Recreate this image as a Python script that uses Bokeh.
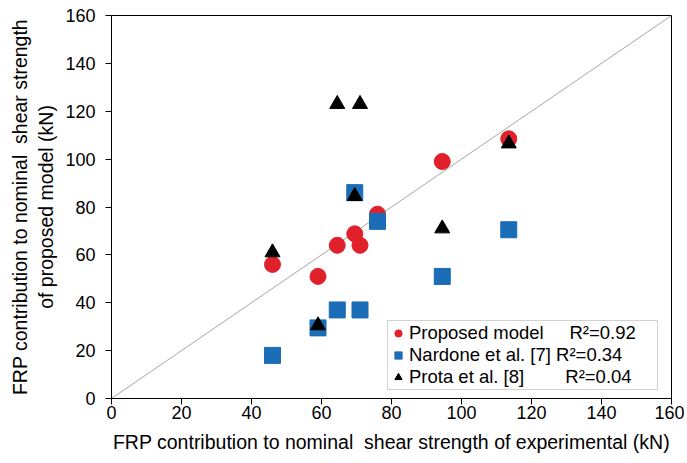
from bokeh.plotting import figure
from bokeh.models import Legend, LegendItem, Range1d, FixedTicker
from bokeh.embed import file_html
from bokeh.resources import INLINE

# Data (kN)
experimental = [46, 59, 64.5, 69.5, 71, 76, 94.5, 113.5]
proposed = [56, 51, 64, 68.8, 64, 77, 99, 108.5]
nardone = [18, 29.5, 37, 86, 37, 74, 51, 70.5]
prota_x = [46, 59, 64.5, 69.5, 71, 94.5, 113.5]
prota = [61, 30.5, 123, 84.5, 123, 71, 106.5]
diag = [0, 160]
ticks = [0, 20, 40, 60, 80, 100, 120, 140, 160]

NB = "\u00a0"
labels = [
    "Proposed model" + NB * 5 + "R\u00b2=0.92",
    "Nardone et al. [7]" + NB + "R\u00b2=0.34",
    "Prota et al. [8]" + NB * 8 + "R\u00b2=0.04",
]

FONT = "Liberation Sans"

p = figure(width=684, height=461, output_backend="svg", toolbar_location=None,
           x_range=Range1d(0, 160), y_range=Range1d(0, 160),
           min_border_left=111, min_border_right=13, min_border_top=15, min_border_bottom=63)
p.background_fill_color = "white"
p.border_fill_color = "white"
p.outline_line_color = "black"
p.outline_line_width = 1
p.grid.visible = False

p.line(diag, diag, line_color="#A6A6A6", line_width=1)

r1 = p.scatter(experimental, proposed, marker="circle", size=16,
               fill_color="#E0202A", line_color="#E0202A")
r2 = p.scatter(experimental, nardone, marker="square", size=16,
               fill_color="#1A6DB6", line_color="#1A6DB6")
r3 = p.scatter(prota_x, prota, marker="triangle", size=15,
               fill_color="black", line_color="black")

for ax in (p.xaxis[0], p.yaxis[0]):
    ax.ticker = FixedTicker(ticks=ticks)
    ax.axis_line_color = "black"
    ax.major_tick_line_color = "black"
    ax.major_tick_out = 6
    ax.major_tick_in = 0
    ax.minor_tick_line_color = None
    ax.major_label_text_font = FONT
    ax.major_label_text_font_size = "18px"
    ax.major_label_text_color = "black"
    ax.axis_label_text_font = FONT
    ax.axis_label_text_font_size = "19.5px"
    ax.axis_label_text_font_style = "normal"
    ax.axis_label_text_color = "black"

p.xaxis.axis_label = "FRP contribution to nominal" + NB + " shear strength of experimental (kN)"
p.yaxis.axis_label = "FRP contribution to nominal" + NB + " shear strength\nof proposed model (kN)"
p.xaxis.axis_label_standoff = 9
p.yaxis.axis_label_standoff = 5
p.xaxis.major_label_standoff = 1
p.yaxis.major_label_standoff = 10

legend = Legend(items=[
    LegendItem(label=labels[0], renderers=[r1]),
    LegendItem(label=labels[1], renderers=[r2]),
    LegendItem(label=labels[2], renderers=[r3]),
], location=(276, 8))
legend.label_text_font = FONT
legend.label_text_font_size = "18.5px"
legend.label_text_color = "black"
legend.border_line_color = "#A6A6A6"
legend.border_line_width = 1
legend.background_fill_color = "white"
legend.background_fill_alpha = 1
legend.glyph_width = 18
legend.glyph_height = 18
legend.label_standoff = 2
legend.spacing = 0
legend.padding = 1
legend.margin = 0
legend.label_height = 18
legend.label_width = 247
p.add_layout(legend, "center")

open("out.html", "w").write(file_html(p, INLINE))
